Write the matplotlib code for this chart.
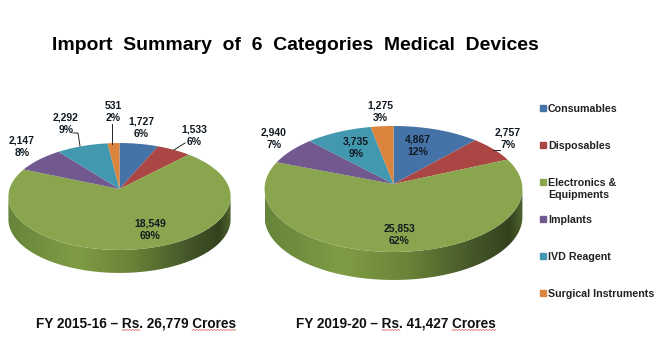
import numpy as np
import matplotlib
matplotlib.use("Agg")
import matplotlib.pyplot as plt
from matplotlib.colors import LinearSegmentedColormap
from matplotlib.patches import Polygon

plt.rcParams["font.family"] = ["Liberation Sans", "DejaVu Sans"]
plt.rcParams["font.weight"] = "bold"

categories = ["Consumables", "Disposables", "Electronics &\nEquipments", "Implants", "IVD Reagent", "Surgical Instruments"]
values_1516 = [1727, 1533, 18549, 2147, 2292, 531]
values_1920 = [4867, 2757, 25853, 2940, 3735, 1275]
colors = ["#4572A7", "#AA4643", "#89A54E", "#71588F", "#4198AF", "#DB843D"]

title = "Import  Summary  of  6  Categories  Medical  Devices"
caption_1516 = "FY 2015-16 – Rs. 26,779 Crores"
caption_1920 = "FY 2019-20 – Rs. 41,427 Crores"

side_cmap = LinearSegmentedColormap.from_list(
    "side",
    [(0, "#66853a"), (0.3, "#7f9c45"), (0.55, "#6a8438"), (0.8, "#46582a"), (0.95, "#33421d"), (1, "#4f6430")],
)

# the whole figure is one axes in pixel coordinates
fig = plt.figure(figsize=(6.6, 3.62), dpi=100)
ax = fig.add_axes([0, 0, 1, 1])


def project(t, cx, cy, a, b, k):
    # a tilted circle seen in perspective: the far side comes out smaller
    u, v = np.sin(t), np.cos(t)
    w = 1 + k * v
    return cx + a * u / w, cy - b * v / w


def draw_pie(values, cx, cy, a, b, k, depth):
    t = np.linspace(0, 2 * np.pi, 721)
    x, y = project(t, cx, cy, a, b, k)
    right, left = np.argmax(x), np.argmin(x)
    arc = np.column_stack((x[right:left + 1], y[right:left + 1]))
    side = np.vstack((arc, arc[::-1] + [0, depth]))

    im = ax.imshow(
        np.linspace(0, 1, 256).reshape(1, -1),
        cmap=side_cmap,
        extent=(x.min(), x.max(), y.max() + depth, y.min()),
        aspect="auto",
        zorder=1,
    )
    im.set_clip_path(Polygon(side, transform=ax.transData))

    edges = np.cumsum([0] + list(values)) / sum(values) * 2 * np.pi
    for start, end, color in zip(edges[:-1], edges[1:], colors):
        ts = np.linspace(start, end, 200)
        wx, wy = project(ts, cx, cy, a, b, k)
        ax.fill(np.r_[cx, wx], np.r_[cy, wy], color=color, lw=0, zorder=2)


def draw_labels(values, spots):
    for value, (x, y) in zip(values, spots):
        pct = round(value / sum(values) * 100)
        ax.text(x, y, f"{value:,}\n{pct}%", ha="center", va="center", fontsize=7.5,
                color="#111a22", linespacing=1.35, zorder=4)


def squiggle(x0, x1, y):
    xs = np.arange(x0, x1, 1.5)
    ys = y + 0.6 * (-1.0) ** np.arange(len(xs))
    ax.plot(xs, ys, color="#d9605a", lw=0.5, zorder=3)


draw_pie(values_1516, 119.5, 189, 110, 52.4, 0.14, 23)
draw_pie(values_1920, 393.5, 184, 128.5, 62.6, 0.079, 28)

draw_labels(values_1516, [(141, 128), (194, 136), (150, 230), (22, 147), (66, 124), (113, 112)])
draw_labels(values_1920, [(418, 146), (508, 139), (399, 235), (274, 139), (356, 148), (380, 112)])

# leader lines
for xs, ys in [
    ([112, 112], [124, 144]),
    ([80, 78, 73], [146, 133, 133]),
    ([174, 185], [150, 143]),
    ([493, 500], [150, 150]),
]:
    ax.plot(xs, ys, color="#222222", lw=0.7, zorder=3)

# legend
legend_y = [108, 145, 188, 219, 256, 293]
for name, color, y in zip(categories, colors, legend_y):
    marker_y = y - 6 if "\n" in name else y
    ax.plot(543, marker_y, "s", color=color, ms=4, zorder=3)
    ax.text(548, y + 1, name, ha="left", va="center", fontsize=7.7, color="#222222",
            linespacing=1.3)

ax.text(295.5, 46, title, ha="center", va="center", fontsize=13.95, color="black")
ax.text(136, 323, caption_1516, ha="center", va="center", fontsize=9.8, color="#111111")
ax.text(395.5, 323, caption_1920, ha="center", va="center", fontsize=9.8, color="#111111")

for x0, x1 in [(122, 141), (192, 237), (382, 401), (452, 496)]:
    squiggle(x0, x1, 330)

ax.set_xlim(0, 660)
ax.set_ylim(362, 0)
ax.axis("off")

fig.savefig("out.png", dpi=100)
